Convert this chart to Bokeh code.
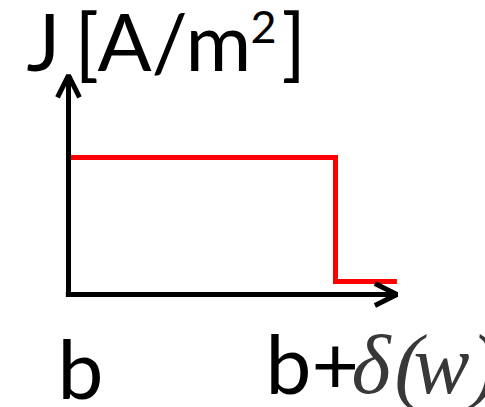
from bokeh.plotting import figure
from bokeh.models import Range1d, Arrow, OpenHead, Label
from bokeh.embed import file_html
from bokeh.resources import INLINE

# Current density profile: constant J up to b+delta(w), then a small residual
x_edges = [0.0, 1.0, 1.23]      # b, b+delta(w), end of drawn region
j_levels = [1.0, 0.095, 0.095]  # J on each segment (step "after")

# axis extents (arbitrary units)
x_axis_end = 1.23
y_axis_end = 1.6

# scale: 267 px per x unit, 137 px per J unit; origin at (68, 294) px from top-left
W, H = 485, 407
sx, sy = 267.0, 137.0
ox, oy = 68.0, 294.0

p = figure(width=W, height=H, output_backend="svg", toolbar_location=None,
           x_range=Range1d(-ox / sx, (W - ox) / sx),
           y_range=Range1d((oy - H) / sy, oy / sy),
           min_border=0, outline_line_color=None,
           x_axis_location=None, y_axis_location=None)
p.grid.visible = False
p.background_fill_color = "white"
p.border_fill_color = "white"

# red step profile
p.step(x=x_edges, y=j_levels, mode="after", line_color="#ff0000",
       line_width=5, line_join="miter")

# axes with open arrow heads
p.add_layout(Arrow(x_start=-0.01, y_start=0, x_end=x_axis_end, y_end=0,
                   line_color="black", line_width=5,
                   end=OpenHead(size=22, line_width=5, line_color="black")))
p.add_layout(Arrow(x_start=0, y_start=-0.015, x_end=0, y_end=y_axis_end,
                   line_color="black", line_width=5,
                   end=OpenHead(size=22, line_width=5, line_color="black")))


def put(text, px, baseline, size, font="Lato", style="normal", color="black"):
    """Place a text piece with its left edge at px and baseline at the given pixel row."""
    dy = 0.41 * size  # anchor lift, proportional to font size
    p.add_layout(Label(x=(px - ox) / sx, y=(oy - baseline + dy) / sy, text=text,
                       text_font=font, text_font_style=style,
                       text_font_size=f"{size}px", text_color=color,
                       text_baseline="alphabetic"))


# y-axis label: J [A/m^2]
put("J", 26, 72, 80)
put("[A/m", 74, 72, 80)
put("2", 250, 45, 45)
put("]", 281, 72, 80)

# x-axis labels
put("b", 57, 400, 82)
put("b+", 265, 395, 82)
serif = "Liberation Serif"
serif_color = "#383838"
put("δ", 351, 398, 84, font=serif, style="italic", color=serif_color)
put("(", 394, 398, 84, font=serif, style="italic", color=serif_color)
put("w", 413, 398, 84, font=serif, style="italic", color=serif_color)
put(")", 470, 398, 84, font=serif, style="italic", color=serif_color)

open("out.html", "w").write(file_html(p, INLINE))
